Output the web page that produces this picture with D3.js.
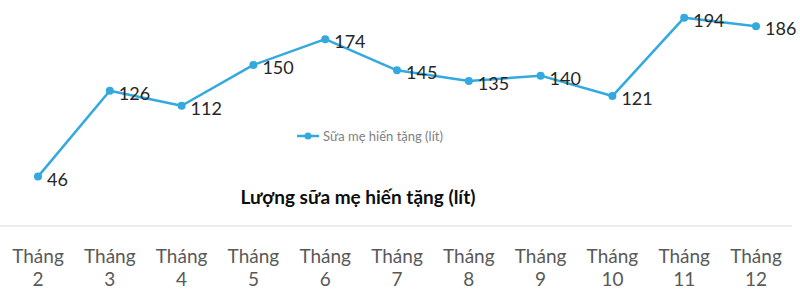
<!DOCTYPE html>
<html>
<head>
<meta charset="utf-8">
<script src="https://cdn.jsdelivr.net/npm/d3@7"></script>
<style>
  body { margin: 0; background: #fff; }
  text { font-family: Lato, "Open Sans", sans-serif; }
</style>
</head>
<body>
<script>
// data
const months = ["Tháng 2", "Tháng 3", "Tháng 4", "Tháng 5", "Tháng 6", "Tháng 7", "Tháng 8", "Tháng 9", "Tháng 10", "Tháng 11", "Tháng 12"]
const values = [46, 126, 112, 150, 174, 145, 135, 140, 121, 194, 186]
const seriesName = "Sữa mẹ hiến tặng (lít)"
const chartTitle = "Lượng sữa mẹ hiến tặng (lít)"

const width = 800, height = 291
const color = "#33a9de"

const svg = d3.select("body").append("svg").attr("width", width).attr("height", height)

const x = d3.scalePoint().domain(months).range([38, 756])
const y = d3.scaleLinear().domain([0, 210]).range([226, 0.5])

// axis line
svg.append("line").attr("x1", 0).attr("x2", 792).attr("y1", y(0)).attr("y2", y(0))
  .attr("stroke", "#d9d9d9").attr("stroke-width", 1)

// tick labels (two lines)
const ticks = svg.selectAll(".tick").data(months).enter().append("text")
  .attr("class", "tick")
  .attr("text-anchor", "middle")
  .attr("fill", "#595959")
  .attr("font-size", "19px")
ticks.append("tspan").attr("x", d => x(d)).attr("y", 263).text(d => d.split(" ")[0])
ticks.append("tspan").attr("x", d => x(d)).attr("y", 286).text(d => d.split(" ")[1])

// line
const line = d3.line().x((d, i) => x(months[i])).y(d => y(d))
svg.append("path").datum(values).attr("d", line)
  .attr("fill", "none").attr("stroke", color).attr("stroke-width", 2.5)
  .attr("stroke-linejoin", "round")

svg.selectAll(".dot").data(values).enter().append("circle")
  .attr("class", "dot")
  .attr("cx", (d, i) => x(months[i])).attr("cy", d => y(d)).attr("r", 4)
  .attr("fill", color)

// data labels
svg.selectAll(".lbl").data(values).enter().append("text")
  .attr("class", "lbl")
  .attr("x", (d, i) => x(months[i]) + 9)
  .attr("y", d => y(d) + 9)
  .attr("fill", "#262626")
  .attr("font-size", "18px")
  .text(d => d)

// legend
svg.append("line").attr("x1", 297).attr("x2", 319).attr("y1", 136).attr("y2", 136)
  .attr("stroke", color).attr("stroke-width", 2.5)
svg.append("circle").attr("cx", 308).attr("cy", 136).attr("r", 3.5).attr("fill", color)
svg.append("text").attr("x", 323).attr("y", 140.5).attr("fill", "#7f7f7f")
  .attr("font-size", "13px").text(seriesName)

// title
svg.append("text").attr("x", 358).attr("y", 204).attr("text-anchor", "middle")
  .attr("font-size", "19px").attr("font-weight", "bold").attr("fill", "#0d0d0d")
  .text(chartTitle)
</script>
</body>
</html>
